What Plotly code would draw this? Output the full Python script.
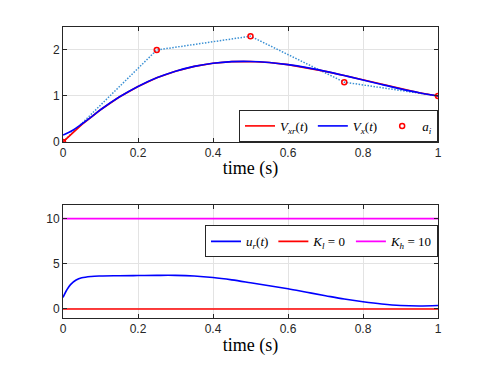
import plotly.graph_objects as go

# sample times for the curves
t = [0.0, 0.05, 0.1, 0.15, 0.2, 0.25, 0.3, 0.35, 0.4, 0.45, 0.5,
     0.55, 0.6, 0.65, 0.7, 0.75, 0.8, 0.85, 0.9, 0.95, 1.0]

# reference velocity V_xr(t)
v_xr = [0.0, 0.375, 0.70, 0.977, 1.207, 1.394, 1.538, 1.643, 1.711, 1.746, 1.75,
        1.727, 1.681, 1.616, 1.535, 1.444, 1.347, 1.248, 1.154, 1.070, 1.0]

# actual velocity V_x(t)
t_x = [0.0, 0.025, 0.05, 0.075, 0.1, 0.15, 0.2, 0.25, 0.3, 0.35, 0.4, 0.45, 0.5,
       0.55, 0.6, 0.65, 0.7, 0.75, 0.8, 0.85, 0.9, 0.95, 1.0]
v_x = [0.15, 0.25, 0.39, 0.54, 0.70, 0.977, 1.207, 1.394, 1.538, 1.643, 1.711, 1.746, 1.75,
       1.727, 1.681, 1.616, 1.535, 1.444, 1.347, 1.248, 1.154, 1.070, 1.0]

# control points a_i
t_a = [0.0, 0.25, 0.5, 0.75, 1.0]
a_i = [0.0, 2.0, 2.3, 1.3, 1.0]

# control input u_r(t)
t_u = [0.0, 0.01, 0.02, 0.035, 0.05, 0.075, 0.1, 0.15, 0.2, 0.25, 0.3, 0.35, 0.4,
       0.45, 0.5, 0.55, 0.6, 0.65, 0.7, 0.75, 0.8, 0.85, 0.9, 0.95, 1.0]
u_r = [1.28, 2.1, 2.7, 3.2, 3.45, 3.6, 3.65, 3.68, 3.7, 3.72, 3.72, 3.65, 3.48,
       3.22, 2.9, 2.57, 2.23, 1.85, 1.47, 1.1, 0.8, 0.55, 0.38, 0.33, 0.38]

K_l = 0
K_h = 10

SERIF = "Liberation Serif"
SANS = "Liberation Sans"
TICK_COLOR = "#262626"

fig = go.Figure()

fig.add_trace(go.Scatter(x=t_a, y=a_i, mode="lines", line=dict(color="#3a90d4", width=1.5, dash="1.5px,1.5px"),
                         showlegend=False, xaxis="x", yaxis="y"))
fig.add_trace(go.Scatter(x=t, y=v_xr, mode="lines", line=dict(color="#ff0000", width=1.6),
                         name="<i>V</i><sub><i>xr</i></sub>(<i>t</i>)", legend="legend",
                         xaxis="x", yaxis="y"))
fig.add_trace(go.Scatter(x=t_x, y=v_x, mode="lines", line=dict(color="#0000ff", width=1.6, shape="spline"),
                         name="<i>V</i><sub><i>x</i></sub>(<i>t</i>)", legend="legend",
                         xaxis="x", yaxis="y"))
fig.add_trace(go.Scatter(x=t_a, y=a_i, mode="markers",
                         marker=dict(symbol="circle-open", color="#ff0000", size=5, line=dict(width=1.5)),
                         name="<i>a</i><sub><i>i</i></sub>", legend="legend",
                         xaxis="x", yaxis="y"))

fig.add_trace(go.Scatter(x=t_u, y=u_r, mode="lines", line=dict(color="#0000ff", width=1.6, shape="spline"),
                         name="<i>u</i><sub><i>r</i></sub>(<i>t</i>)", legend="legend2",
                         xaxis="x2", yaxis="y2"))
fig.add_trace(go.Scatter(x=[0, 1], y=[K_l, K_l], mode="lines", line=dict(color="#ff0000", width=1.6),
                         name="<i>K</i><sub><i>l</i></sub> = 0", legend="legend2",
                         xaxis="x2", yaxis="y2"))
fig.add_trace(go.Scatter(x=[0, 1], y=[K_h, K_h], mode="lines", line=dict(color="#ff00ff", width=1.6),
                         name="<i>K</i><sub><i>h</i></sub> = 10", legend="legend2",
                         xaxis="x2", yaxis="y2"))

axis_common = dict(
    showgrid=True, gridcolor="#e3e3e3", gridwidth=1,
    showline=True, linecolor="#262626", linewidth=1, mirror="ticks",
    ticks="inside", ticklen=4, tickcolor="#262626",
    tickfont=dict(family=SANS, size=12, color=TICK_COLOR),
    zeroline=False,
)
xtitle = dict(text="time (s)", font=dict(family=SERIF, size=18, color="#000000"), standoff=2)

legend_common = dict(
    orientation="h", bgcolor="white", bordercolor="#262626", borderwidth=1,
    font=dict(family=SERIF, size=13, color="#000000"),
    xanchor="right", x=1.0, tracegroupgap=0, itemwidth=30,
)

# page body has an 8px margin, so the figure is 8px smaller than the window
fig.update_layout(
    width=477, height=367,
    margin=dict(l=55, r=47, t=19, b=57),
    paper_bgcolor="white", plot_bgcolor="white",
    xaxis=dict(axis_common, domain=[0, 1], range=[0, 1], dtick=0.2, anchor="y", title=xtitle),
    yaxis=dict(axis_common, domain=[0.605, 1], range=[0, 2.5], dtick=1, anchor="x"),
    xaxis2=dict(axis_common, domain=[0, 1], range=[0, 1], dtick=0.2, anchor="y2", title=xtitle),
    yaxis2=dict(axis_common, domain=[0, 0.388], range=[-1, 11.5], dtick=5, anchor="x2"),
    legend=dict(legend_common, yanchor="bottom", y=0.605),
    legend2=dict(legend_common, yanchor="top", y=0.318),
)

fig.write_html("out.html")
